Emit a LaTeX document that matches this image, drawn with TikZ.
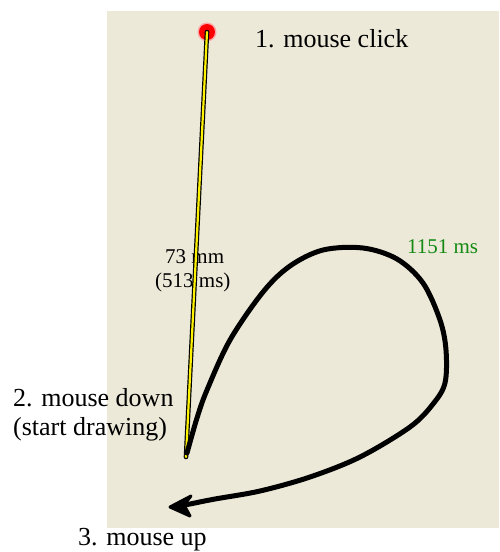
\documentclass[tikz,border=0pt]{standalone}
\usepackage{fontspec}
\setmainfont{Liberation Serif}
\definecolor{panel}{RGB}{236,233,216}
\definecolor{timegreen}{RGB}{20,138,20}
\tikzset{
  biglabel/.style={font=\fontsize{26}{30}\selectfont, inner sep=0pt, anchor=base west},
  smalllabel/.style={font=\fontsize{21}{24}\selectfont, inner sep=0pt, anchor=base west},
  stroke/.style={line width=5pt, line cap=round, line join=round},
  headfill/.style={fill=black, draw=black, line width=3pt, line join=round},
}
\begin{document}
\begin{tikzpicture}[x=1pt,y=-1pt]
\useasboundingbox (0,0) rectangle (499,552);
% drawing area
\fill[panel] (107,11) rectangle (499,528);

% click point, straight segment ends and arrow head points
\coordinate (click) at (207,32);
\coordinate (down) at (186,457);
\coordinate (release) at (170,507);
\coordinate (notch) at (184,505);
\coordinate (wingA) at (191,496);
\coordinate (wingB) at (190,516);

% labels
\node[biglabel] (lclick) at (255,47) {1. mouse click};
\node[biglabel] (ldown) at (13,406) {2. mouse down};
\node[biglabel] (lstart) at (13,435) {(start drawing)};
\node[biglabel] (lup) at (78,545) {3. mouse up};
\node[smalllabel] (ldist) at (165,263) {73 mm};
\node[smalllabel] (ltime) at (155,287) {(513 ms)};
\node[smalllabel, text=timegreen] (ltotal) at (407,253) {1151 ms};

% red click marker
\fill[red!35] (click) circle (9.5);
\fill[red] (click) circle (8);

% straight move from click to mouse down
\draw[line width=4.6pt, line cap=round] (click) -- (down);
\draw[line width=2.2pt, yellow, line cap=round] (click) -- (down);

% freehand stroke
\draw[stroke]
  plot[smooth, tension=0.55] coordinates {
    (187,453) (197,418) (207,390) (230,340) (263,292) (290,266)
    (323,250) (363,248) (397,259) (423,283) (440,320) (446,350)
    (445,383) (433,404) (410,427) (360,457) (310,477) (260,491)
    (215,499) (190,504)}
  -- (notch);
% its arrow head
\path[headfill] (release) -- (wingA) -- (notch) -- (wingB) -- cycle;
\end{tikzpicture}
\end{document}
